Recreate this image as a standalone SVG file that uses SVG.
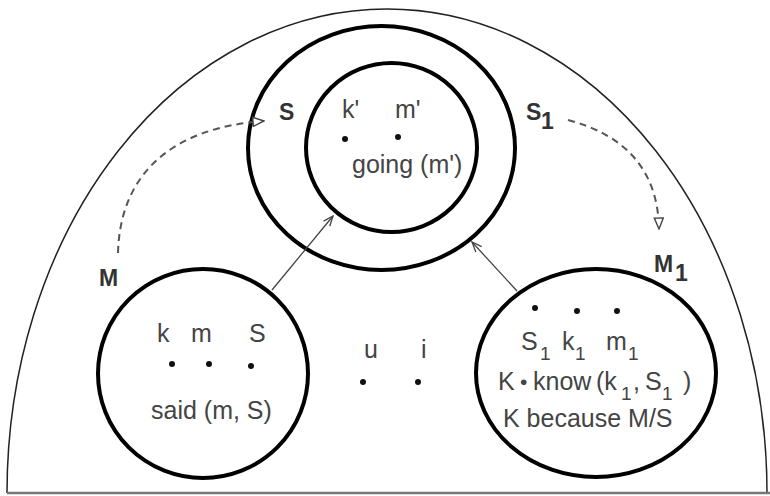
<svg xmlns="http://www.w3.org/2000/svg" width="770" height="496" viewBox="0 0 770 496">
  <style>
    .ring { fill: none; stroke: #000; stroke-width: 4; }
    .txt { font-family: "Liberation Sans", Arial, sans-serif; font-size: 25px; fill: #444; }
    .sub { font-size: 19px; }
    .lbl { font-family: "Liberation Sans", Arial, sans-serif; font-size: 23px; font-weight: bold; fill: #333; }
    .dot { fill: #111; }
    .solid { fill: none; stroke: #444; stroke-width: 1.3; marker-end: url(#vee); }
    .dash { fill: none; stroke: #555; stroke-width: 2; stroke-dasharray: 7 5; marker-end: url(#tri); }
  </style>
  <defs>
    <marker id="vee" viewBox="0 0 12 10" refX="11" refY="5" markerWidth="12" markerHeight="10" markerUnits="userSpaceOnUse" orient="auto">
      <path d="M1,1 L11,5 L1,9" fill="none" stroke="#444" stroke-width="1.3" stroke-dasharray="none"/>
    </marker>
    <marker id="tri" viewBox="0 0 13 11" refX="12" refY="5.5" markerWidth="13" markerHeight="11" markerUnits="userSpaceOnUse" orient="auto">
      <path d="M1,1 L12,5.5 L1,10 Z" fill="#fff" stroke="#444" stroke-width="1.4" stroke-dasharray="none"/>
    </marker>
  </defs>

  <g id="outer">
    <path d="M7,493 A380,484 0 0 1 767,493" fill="none" stroke="#222" stroke-width="1.5"/>
    <line x1="7" y1="493" x2="770" y2="493" stroke="#777" stroke-width="2.5"/>
  </g>

  <g id="node-S">
    <ellipse class="ring" cx="381.5" cy="148" rx="133.5" ry="122"/>
  </g>

  <g id="node-going">
    <ellipse class="ring" cx="391.5" cy="147.5" rx="85.5" ry="84.5"/>
    <text class="txt" x="342" y="118">k'</text>
    <text class="txt" x="395" y="118">m'</text>
    <circle class="dot" cx="345" cy="139" r="3"/>
    <circle class="dot" cx="398" cy="137" r="3"/>
    <text class="txt" x="352" y="173">going (m')</text>
  </g>

  <g id="node-M">
    <ellipse class="ring" cx="203" cy="373.5" rx="105" ry="104.5"/>
    <text class="txt" x="157" y="342">k</text>
    <text class="txt" x="191" y="342">m</text>
    <text class="txt" x="249" y="342">S</text>
    <circle class="dot" cx="172" cy="364" r="3"/>
    <circle class="dot" cx="209" cy="364" r="3"/>
    <circle class="dot" cx="251" cy="366" r="3"/>
    <text class="txt" x="151" y="419">said (m, S)</text>
  </g>

  <g id="node-ui">
    <text class="txt" x="364" y="358">u</text>
    <text class="txt" x="421" y="358">i</text>
    <circle class="dot" cx="363" cy="382" r="3"/>
    <circle class="dot" cx="418" cy="382" r="3"/>
  </g>

  <g id="node-M1">
    <ellipse class="ring" cx="596" cy="373" rx="120" ry="104"/>
    <circle class="dot" cx="535" cy="308" r="3"/>
    <circle class="dot" cx="577" cy="311" r="3"/>
    <circle class="dot" cx="617" cy="311" r="3"/>
    <text class="txt"><tspan x="521" y="350">S</tspan><tspan class="sub" x="540" y="360">1</tspan><tspan x="562" y="350">k</tspan><tspan class="sub" x="575" y="360">1</tspan><tspan x="606" y="350">m</tspan><tspan class="sub" x="628" y="360">1</tspan></text>
    <text class="txt"><tspan x="498" y="390">K</tspan><tspan font-size="21" x="520" y="389">•</tspan><tspan x="533" y="390">know</tspan><tspan x="596" y="390">(k</tspan><tspan class="sub" x="621" y="400">1</tspan><tspan x="633" y="390">,</tspan><tspan x="645" y="390">S</tspan><tspan class="sub" x="662" y="400">1</tspan><tspan x="683" y="390">)</tspan></text>
    <text class="txt" x="503" y="427">K because M/S</text>
  </g>

  <g id="labels">
    <text class="lbl" x="279" y="120">S</text>
    <text class="lbl"><tspan x="526" y="120">S</tspan><tspan x="541" y="129">1</tspan></text>
    <text class="lbl" x="99" y="286">M</text>
    <text class="lbl"><tspan x="654" y="272">M</tspan><tspan x="675" y="281">1</tspan></text>
  </g>

  <g id="connectors">
    <path class="solid" d="M272,290 L333,216"/>
    <path class="solid" d="M517,291 L472,242"/>
    <path class="dash" d="M118,253 C120,175 170,128 264,121"/>
    <path class="dash" d="M568,120 C625,135 658,170 659,229"/>
  </g>
</svg>
